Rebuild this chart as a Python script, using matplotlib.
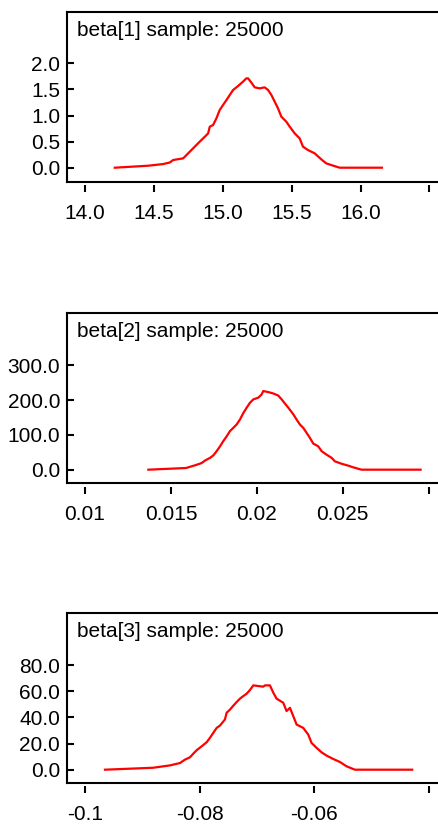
import matplotlib
matplotlib.use("Agg")
import matplotlib.pyplot as plt

plt.rcParams['font.family'] = ['Liberation Sans', 'DejaVu Sans']
plt.rcParams['font.size'] = 15

# beta[1] density
b1_x = [14.217, 14.459, 14.568, 14.616, 14.640, 14.713, 14.737, 14.773, 14.797, 14.821,
        14.845, 14.870, 14.894, 14.906, 14.930, 14.954, 14.978, 15.002, 15.027, 15.051,
        15.075, 15.111, 15.147, 15.171, 15.184, 15.208, 15.232, 15.268, 15.304, 15.329,
        15.353, 15.377, 15.401, 15.425, 15.461, 15.486, 15.522, 15.558, 15.582, 15.618,
        15.667, 15.715, 15.751, 15.787, 15.848, 16.155]
b1_y = [0.0, 0.038, 0.070, 0.100, 0.147, 0.179, 0.243, 0.339, 0.403, 0.467,
        0.530, 0.594, 0.658, 0.786, 0.818, 0.946, 1.105, 1.201, 1.297, 1.393,
        1.489, 1.565, 1.649, 1.712, 1.712, 1.629, 1.540, 1.520, 1.540, 1.489,
        1.393, 1.265, 1.137, 0.978, 0.882, 0.786, 0.658, 0.562, 0.403, 0.339,
        0.275, 0.160, 0.083, 0.051, 0.0, 0.0]

# beta[2] density
b2_x = [0.01369, 0.01588, 0.01640, 0.01679, 0.01698, 0.01728, 0.01747, 0.01766, 0.01786, 0.01805,
        0.01825, 0.01844, 0.01863, 0.01883, 0.01902, 0.01922, 0.01941, 0.01960, 0.01980, 0.02009,
        0.02028, 0.02038, 0.02067, 0.02096, 0.02125, 0.02145, 0.02164, 0.02184, 0.02213, 0.02232,
        0.02251, 0.02271, 0.02290, 0.02310, 0.02329, 0.02358, 0.02378, 0.02407, 0.02436, 0.02455,
        0.02494, 0.02533, 0.02562, 0.02610, 0.02954]
b2_y = [0, 4.8, 12.5, 19, 26, 34, 41, 53, 67, 82,
        96, 111, 120, 130, 144, 163, 178, 192, 202, 207,
        216, 226, 223, 219, 213, 202, 190, 178, 159, 144,
        130, 120, 106, 91, 75, 67, 53, 43, 34, 24,
        17, 11.5, 6.7, 0, 0]

# beta[3] density
b3_x = [-0.09651, -0.08808, -0.08517, -0.08343, -0.08256, -0.08169, -0.08110, -0.08052, -0.07965, -0.07878,
        -0.07820, -0.07762, -0.07703, -0.07645, -0.07558, -0.07529, -0.07471, -0.07413, -0.07355, -0.07297,
        -0.07238, -0.07180, -0.07122, -0.07064, -0.06977, -0.06890, -0.06860, -0.06773, -0.06715, -0.06657,
        -0.06541, -0.06483, -0.06424, -0.06366, -0.06308, -0.06192, -0.06105, -0.06047, -0.05959, -0.05872,
        -0.05785, -0.05669, -0.05552, -0.05436, -0.05291, -0.04291]
b3_y = [0, 1.5, 3.3, 5.1, 7.7, 9.5, 12.3, 14.9, 17.9, 21,
        24.4, 28.2, 32, 33.8, 38.5, 43.6, 46, 49, 51.8, 54.4,
        56.4, 58.2, 61, 64.6, 64.1, 63.6, 64.6, 64.6, 59, 54.4,
        51.3, 44.9, 47.4, 41, 34.6, 32, 26.9, 20.5, 16.7, 13.3,
        10.8, 8.2, 5.9, 2.6, 0, 0]

titles = ["beta[1] sample: 25000", "beta[2] sample: 25000", "beta[3] sample: 25000"]

b1_xticks = [14.0, 14.5, 15.0, 15.5, 16.0, 16.5]
b1_xlabels = ["14.0", "14.5", "15.0", "15.5", "16.0", ""]
b1_yticks = [0.0, 0.5, 1.0, 1.5, 2.0]
b1_ylabels = ["0.0", "0.5", "1.0", "1.5", "2.0"]

b2_xticks = [0.01, 0.015, 0.02, 0.025, 0.03]
b2_xlabels = ["0.01", "0.015", "0.02", "0.025", ""]
b2_yticks = [0, 100, 200, 300]
b2_ylabels = ["0.0", "100.0", "200.0", "300.0"]

b3_xticks = [-0.1, -0.08, -0.06, -0.04]
b3_xlabels = ["-0.1", "-0.08", "-0.06", ""]
b3_yticks = [0, 20, 40, 60, 80]
b3_ylabels = ["0.0", "20.0", "40.0", "60.0", "80.0"]

panels = [
    (b1_x, b1_y, b1_xticks, b1_xlabels, b1_yticks, b1_ylabels, (13.870, 16.59), (-0.274, 2.983)),
    (b2_x, b2_y, b2_xticks, b2_xlabels, b2_yticks, b2_ylabels, (0.00895, 0.03078), (-38.4, 450)),
    (b3_x, b3_y, b3_xticks, b3_xlabels, b3_yticks, b3_ylabels, (-0.10314, -0.03773), (-10.2, 120)),
]

fig = plt.figure(figsize=(4.39, 8.25), dpi=100)
bottoms = [0.7794, 0.4145, 0.0509]

for i, p in enumerate(panels):
    xs, ys, xt, xl, yt, yl, xlim, ylim = p
    ax = fig.add_axes([0.1526, bottoms[i], 0.854, 0.206])
    ax.plot(xs, ys, color='red', lw=1.6)
    ax.set_xlim(*xlim)
    ax.set_ylim(*ylim)
    ax.set_xticks(xt)
    ax.set_xticklabels(xl)
    ax.set_yticks(yt)
    ax.set_yticklabels(yl)
    for s in ['top', 'left', 'right']:
        ax.spines[s].set_linewidth(1.5)
    # ticks sit a bit below the box, like the original
    ax.spines['bottom'].set_position(('outward', 2.5))
    ax.spines['bottom'].set_color('none')
    ax.plot([0, 1], [0, 0], transform=ax.transAxes, color='black', lw=1.5, clip_on=False)
    ax.tick_params(axis='x', direction='out', length=5, width=1.5, pad=8, color='black')
    ax.tick_params(axis='y', direction='in', length=5, width=1.5, pad=5)
    ax.text(0.027, 0.859, titles[i], transform=ax.transAxes, ha='left', va='baseline')

fig.savefig("out.png", dpi=100)
